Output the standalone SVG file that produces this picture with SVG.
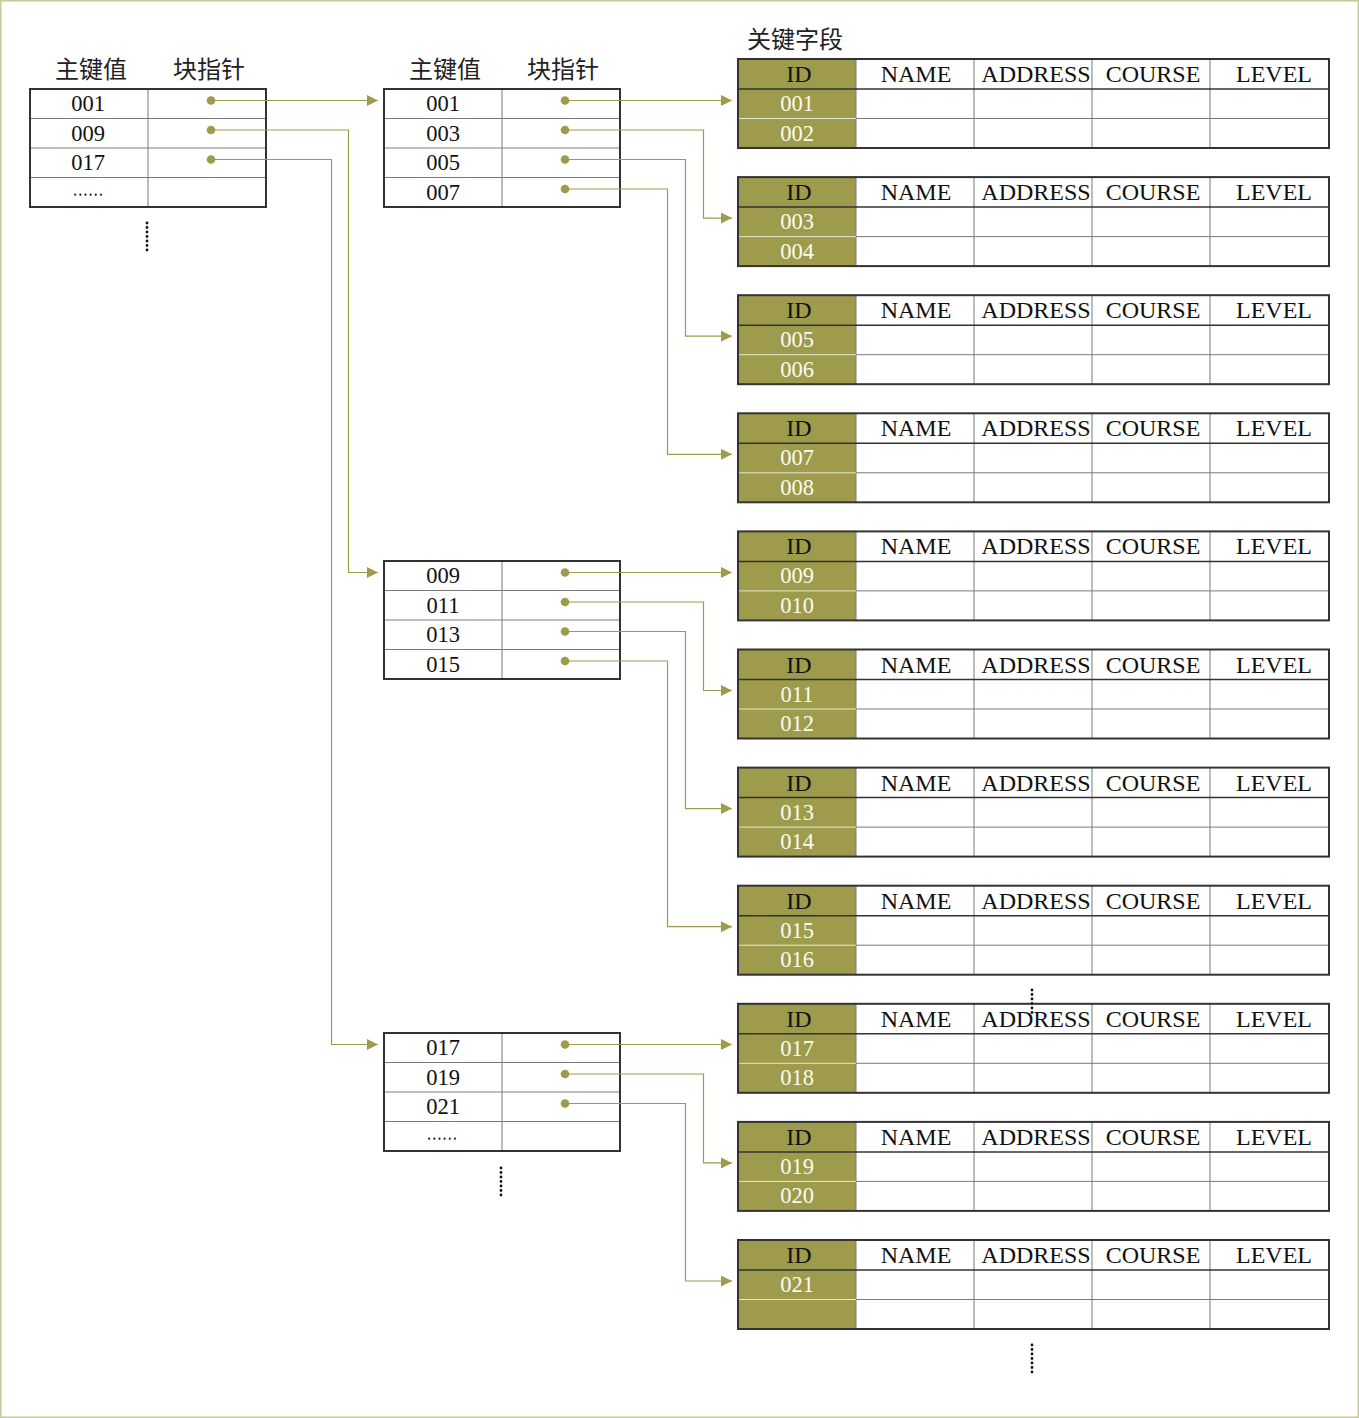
<svg xmlns="http://www.w3.org/2000/svg" xmlns:xlink="http://www.w3.org/1999/xlink" width="1359" height="1418" viewBox="0 0 1359 1418">
<style>
  .t{font-family:"Liberation Serif","Noto Sans CJK SC",serif;fill:#111;text-anchor:middle}
  .num{font-size:22.5px}
  .hd{font-size:24px}
  .cjk{font-family:"Noto Sans CJK SC","Liberation Serif",sans-serif;font-size:24px;fill:#222;text-anchor:middle}
  .w{fill:#fbfbf0}
  .conn{fill:none;stroke:#9e9b4d;stroke-width:1.2}
  .pt{fill:#9e9b4d}
  .grid{stroke:#7a7a7a;stroke-width:1;fill:none}
  .outer{fill:none;stroke:#333;stroke-width:2}
  .dots{stroke:#111;stroke-width:2.8;stroke-linecap:round;stroke-dasharray:0 4.5;fill:none}
</style>
<defs>
  <marker id="arr" markerUnits="userSpaceOnUse" markerWidth="12" markerHeight="12" refX="11" refY="5.5" orient="auto">
    <path d="M0,0 L11,5.5 L0,11 z" fill="#9e9b4d"/>
  </marker>
  <g id="idxTbl">
    <rect x="0" y="0" width="236" height="118" fill="#fff"/>
    <path class="grid" d="M0,29.5 H236 M0,59 H236 M0,88.5 H236 M118,0 V118"/>
    <rect class="outer" x="0" y="0" width="236" height="118"/>
  </g>
  <g id="blkTbl">
    <rect x="738" y="0" width="591" height="89" fill="#fff"/>
    <rect x="738" y="0" width="118" height="89" fill="#9e9b4d"/>
    <path class="grid" d="M856,59.5 H1329 M856,0 V89 M974,0 V89 M1092,0 V89 M1210,0 V89"/>
    <path d="M738,30 H1329" stroke="#333" stroke-width="1.5"/>
    <path d="M738,59.5 H856" stroke="#e6e6cc" stroke-width="1"/>
    <rect class="outer" x="738" y="0" width="591" height="89"/>
    <text class="t hd" x="799" y="23">ID</text>
    <text class="t hd" x="916" y="23">NAME</text>
    <text class="t hd" x="1036" y="23">ADDRESS</text>
    <text class="t hd" x="1153" y="23">COURSE</text>
    <text class="t hd" x="1274" y="23">LEVEL</text>
  </g>
</defs>

<rect x="0.75" y="0.75" width="1357.5" height="1416.5" fill="#fff" stroke="#c8c89b" stroke-width="1.5"/>

<g id="labels">
  <text class="cjk" x="91" y="78">主键值</text>
  <text class="cjk" x="209" y="78">块指针</text>
  <text class="cjk" x="445" y="78">主键值</text>
  <text class="cjk" x="563" y="78">块指针</text>
  <text class="cjk" x="795" y="48">关键字段</text>
</g>

<g id="idx0">
  <use xlink:href="#idxTbl" x="30" y="89"/>
  <text class="t num" x="88" y="111">001</text>
  <text class="t num" x="88" y="140.5">009</text>
  <text class="t num" x="88" y="170">017</text>
  <text class="t num" x="88" y="196" textLength="31" lengthAdjust="spacingAndGlyphs">……</text>
  <path class="dots" d="M147,223 V252"/>
</g>

<g id="idx1">
  <use xlink:href="#idxTbl" x="384" y="89"/>
  <text class="t num" x="443" y="111">001</text>
  <text class="t num" x="443" y="140.5">003</text>
  <text class="t num" x="443" y="170">005</text>
  <text class="t num" x="443" y="199.5">007</text>
</g>

<g id="idx2">
  <use xlink:href="#idxTbl" x="384" y="561"/>
  <text class="t num" x="443" y="583">009</text>
  <text class="t num" x="443" y="612.5">011</text>
  <text class="t num" x="443" y="642">013</text>
  <text class="t num" x="443" y="671.5">015</text>
</g>

<g id="idx3">
  <use xlink:href="#idxTbl" x="384" y="1033"/>
  <text class="t num" x="443" y="1055">017</text>
  <text class="t num" x="443" y="1084.5">019</text>
  <text class="t num" x="443" y="1114">021</text>
  <text class="t num" x="442" y="1140" textLength="31" lengthAdjust="spacingAndGlyphs">……</text>
  <path class="dots" d="M501,1168 V1197"/>
</g>

<g id="blk0" transform="translate(0,59)">
  <use xlink:href="#blkTbl"/>
  <text class="t num w" x="797" y="52">001</text>
  <text class="t num w" x="797" y="81.5">002</text>
</g>
<g id="blk1" transform="translate(0,177.1)">
  <use xlink:href="#blkTbl"/>
  <text class="t num w" x="797" y="52">003</text>
  <text class="t num w" x="797" y="81.5">004</text>
</g>
<g id="blk2" transform="translate(0,295.2)">
  <use xlink:href="#blkTbl"/>
  <text class="t num w" x="797" y="52">005</text>
  <text class="t num w" x="797" y="81.5">006</text>
</g>
<g id="blk3" transform="translate(0,413.3)">
  <use xlink:href="#blkTbl"/>
  <text class="t num w" x="797" y="52">007</text>
  <text class="t num w" x="797" y="81.5">008</text>
</g>
<g id="blk4" transform="translate(0,531.4)">
  <use xlink:href="#blkTbl"/>
  <text class="t num w" x="797" y="52">009</text>
  <text class="t num w" x="797" y="81.5">010</text>
</g>
<g id="blk5" transform="translate(0,649.5)">
  <use xlink:href="#blkTbl"/>
  <text class="t num w" x="797" y="52">011</text>
  <text class="t num w" x="797" y="81.5">012</text>
</g>
<g id="blk6" transform="translate(0,767.6)">
  <use xlink:href="#blkTbl"/>
  <text class="t num w" x="797" y="52">013</text>
  <text class="t num w" x="797" y="81.5">014</text>
</g>
<g id="blk7" transform="translate(0,885.7)">
  <use xlink:href="#blkTbl"/>
  <text class="t num w" x="797" y="52">015</text>
  <text class="t num w" x="797" y="81.5">016</text>
</g>
<g id="blk8" transform="translate(0,1003.8)">
  <use xlink:href="#blkTbl"/>
  <text class="t num w" x="797" y="52">017</text>
  <text class="t num w" x="797" y="81.5">018</text>
</g>
<g id="blk9" transform="translate(0,1121.9)">
  <use xlink:href="#blkTbl"/>
  <text class="t num w" x="797" y="52">019</text>
  <text class="t num w" x="797" y="81.5">020</text>
</g>
<g id="blk10" transform="translate(0,1240)">
  <use xlink:href="#blkTbl"/>
  <text class="t num w" x="797" y="52">021</text>
</g>

<g id="ellipsis">
  <path class="dots" d="M1032,990 V1017"/>
  <path class="dots" d="M1032,1345 V1374"/>
</g>

<g id="connectors">
  <path class="conn" marker-end="url(#arr)" d="M211,100.5 H378"/>
  <path class="conn" marker-end="url(#arr)" d="M211,130 H348.5 V572.5 H378"/>
  <path class="conn" marker-end="url(#arr)" d="M211,159.5 H331.5 V1044.5 H378"/>

  <path class="conn" marker-end="url(#arr)" d="M565,100.5 H732"/>
  <path class="conn" marker-end="url(#arr)" d="M565,130 H703.5 V218.1 H732"/>
  <path class="conn" marker-end="url(#arr)" d="M565,159.5 H685.5 V336.2 H732"/>
  <path class="conn" marker-end="url(#arr)" d="M565,189 H667.5 V454.3 H732"/>

  <path class="conn" marker-end="url(#arr)" d="M565,572.5 H732"/>
  <path class="conn" marker-end="url(#arr)" d="M565,602 H703.5 V690.5 H732"/>
  <path class="conn" marker-end="url(#arr)" d="M565,631.5 H685.5 V808.6 H732"/>
  <path class="conn" marker-end="url(#arr)" d="M565,661 H667.5 V926.7 H732"/>

  <path class="conn" marker-end="url(#arr)" d="M565,1044.5 H732"/>
  <path class="conn" marker-end="url(#arr)" d="M565,1074 H703.5 V1162.9 H732"/>
  <path class="conn" marker-end="url(#arr)" d="M565,1103.5 H685.5 V1281 H732"/>

  <circle class="pt" cx="211" cy="100.5" r="4.3"/>
  <circle class="pt" cx="211" cy="130" r="4.3"/>
  <circle class="pt" cx="211" cy="159.5" r="4.3"/>
  <circle class="pt" cx="565" cy="100.5" r="4.3"/>
  <circle class="pt" cx="565" cy="130" r="4.3"/>
  <circle class="pt" cx="565" cy="159.5" r="4.3"/>
  <circle class="pt" cx="565" cy="189" r="4.3"/>
  <circle class="pt" cx="565" cy="572.5" r="4.3"/>
  <circle class="pt" cx="565" cy="602" r="4.3"/>
  <circle class="pt" cx="565" cy="631.5" r="4.3"/>
  <circle class="pt" cx="565" cy="661" r="4.3"/>
  <circle class="pt" cx="565" cy="1044.5" r="4.3"/>
  <circle class="pt" cx="565" cy="1074" r="4.3"/>
  <circle class="pt" cx="565" cy="1103.5" r="4.3"/>
</g>
</svg>
